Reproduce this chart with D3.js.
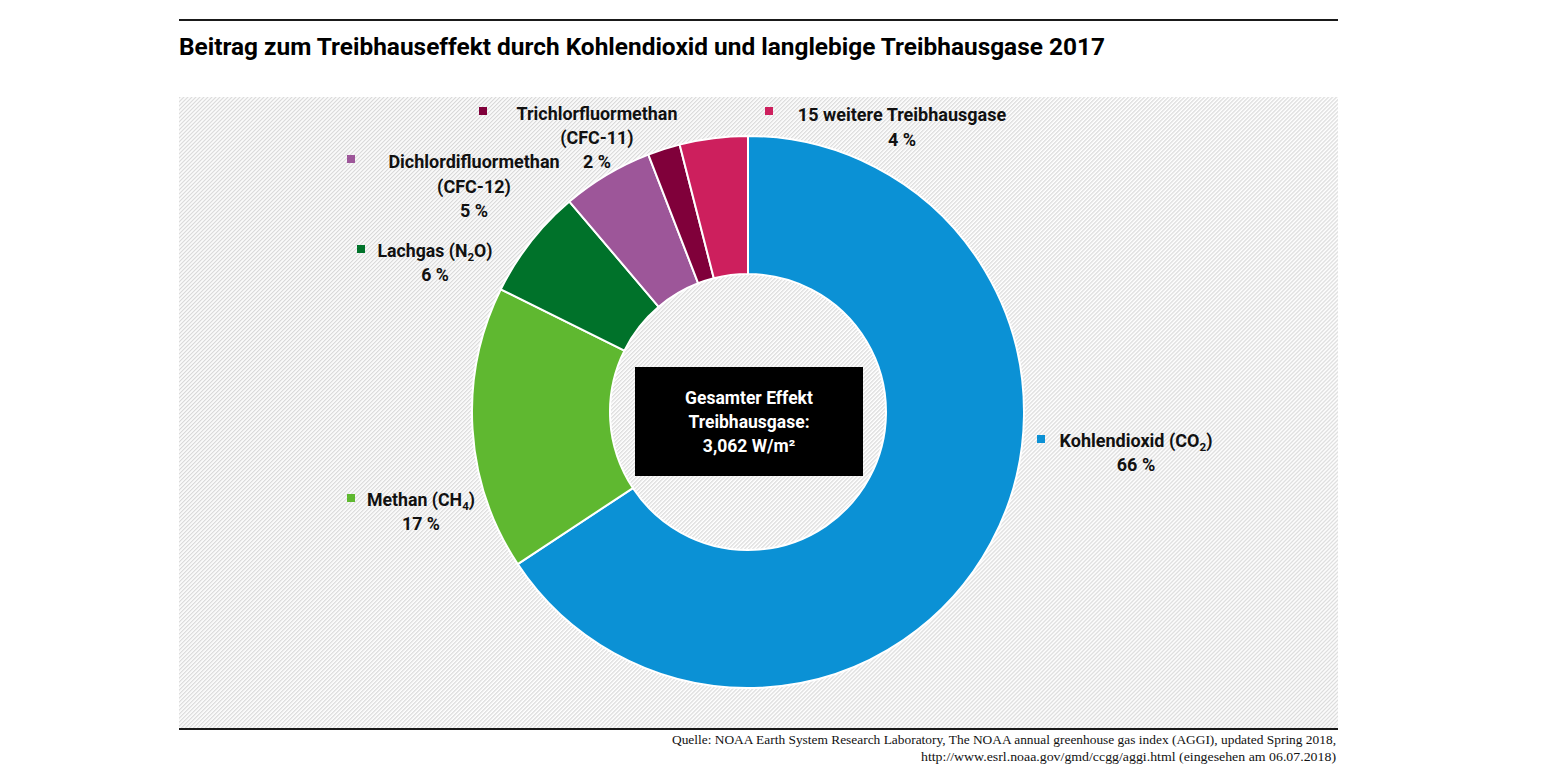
<!DOCTYPE html>
<html><head><meta charset="utf-8">
<script src="https://cdn.jsdelivr.net/npm/d3@7"></script>
<style>body{margin:0;background:#fff}</style>
</head><body>
<svg id="c" width="1545" height="775"></svg>
<script>
// ---- data (NOAA AGGI 2017, W/m²) ----
const categories = ["Kohlendioxid (CO{2})", "Methan (CH{4})", "Lachgas (N{2}O)", "Dichlordifluormethan|(CFC-12)", "Trichlorfluormethan|(CFC-11)", "15 weitere Treibhausgase"];
const values = [2.012, 0.509, 0.198, 0.163, 0.058, 0.122];
const percentLabels = ["66 %", "17 %", "6 %", "5 %", "2 %", "4 %"];
const colors = ["#0b91d5", "#5fb830", "#00722a", "#9d5699", "#80003a", "#cd1f5d"];
const titleText = "Beitrag zum Treibhauseffekt durch Kohlendioxid und langlebige Treibhausgase 2017";
const centerLines = ["Gesamter Effekt", "Treibhausgase:", "3,062 W/m²"];
const sourceLines = ["Quelle: NOAA Earth System Research Laboratory, The NOAA annual greenhouse gas index (AGGI), updated Spring 2018,",
                     "http://www.esrl.noaa.gov/gmd/ccgg/aggi.html (eingesehen am 06.07.2018)"];

// ---- layout ----
const frame = {x0: 179, x1: 1338, top: 20, hatchTop: 97, hatchBottom: 728, bottom: 729};
const cx = 748, cy = 412, rOuter = 276, rInner = 138;
const labelLayout = [
  {mx: 1037, my: 435, tx: 1136, ty: 441, lh: 24, w: 154},
  {mx: 347, my: 494, tx: 421, ty: 500, lh: 24, w: 108},
  {mx: 357, my: 245, tx: 435, ty: 251, lh: 24, w: 115},
  {mx: 347, my: 155, tx: 474, ty: 162, lh: 24.5, w: 174},
  {mx: 479, my: 107, tx: 597, ty: 114, lh: 24, w: 161},
  {mx: 765, my: 107, tx: 902, ty: 115, lh: 24.5, w: 210}
];
const FONT = "Roboto, 'Open Sans', sans-serif";

const svg = d3.select("#c");

// hatch pattern
const defs = svg.append("defs");
const pat = defs.append("pattern").attr("id", "hatch")
  .attr("patternUnits", "userSpaceOnUse").attr("width", 2.83).attr("height", 10)
  .attr("patternTransform", "rotate(45)");
pat.append("rect").attr("width", 2.83).attr("height", 10).attr("fill", "#ffffff");
pat.append("rect").attr("width", 1.2).attr("height", 10).attr("fill", "#d9d9d9");

svg.append("rect").attr("x", frame.x0).attr("y", frame.hatchTop)
  .attr("width", frame.x1 - frame.x0).attr("height", frame.hatchBottom - frame.hatchTop)
  .attr("fill", "url(#hatch)");

// rules
svg.append("line").attr("x1", frame.x0).attr("x2", frame.x1).attr("y1", frame.top).attr("y2", frame.top)
  .attr("stroke", "#1a1a1a").attr("stroke-width", 2);
svg.append("line").attr("x1", frame.x0).attr("x2", frame.x1).attr("y1", frame.bottom).attr("y2", frame.bottom)
  .attr("stroke", "#1a1a1a").attr("stroke-width", 2);

function fitWidth(sel, target) {
  const w = sel.node().getComputedTextLength();
  if (Math.abs(w - target) / target > 0.01) {
    sel.attr("textLength", target).attr("lengthAdjust", "spacingAndGlyphs");
  }
}

// title
const title = svg.append("text").attr("x", frame.x0).attr("y", 55)
  .attr("font-family", FONT).attr("font-weight", 700).attr("font-size", 23).attr("fill", "#000")
  .text(titleText);
fitWidth(title, 926);

// donut
const pie = d3.pie().sort(null).value(d => d);
const arc = d3.arc().innerRadius(rInner).outerRadius(rOuter);
const g = svg.append("g").attr("transform", `translate(${cx},${cy})`);
g.selectAll("path").data(pie(values)).join("path")
  .attr("d", arc).attr("fill", (d, i) => colors[i])
  .attr("stroke", "#fff").attr("stroke-width", 2).attr("stroke-linejoin", "round");

// labels (text in {} is subscript)
function addRichLine(textSel, str, fs) {
  const parts = str.split(/(\{[^}]*\})/).filter(s => s.length);
  let pendingUp = 0;
  parts.forEach(p => {
    if (p.startsWith("{")) {
      textSel.append("tspan").attr("font-size", fs * 0.65).attr("dy", 4).text(p.slice(1, -1));
      pendingUp = -4;
    } else {
      const t = textSel.append("tspan").text(p);
      if (pendingUp) { t.attr("dy", pendingUp); pendingUp = 0; }
    }
  });
}
const fsLabel = 17;
categories.forEach((cat, i) => {
  const L = labelLayout[i];
  svg.append("rect").attr("x", L.mx).attr("y", L.my).attr("width", 8).attr("height", 8).attr("fill", colors[i]);
  const lines = cat.split("|").concat([percentLabels[i]]);
  const probe = svg.append("text").attr("font-family", FONT).attr("font-weight", 700).attr("font-size", fsLabel);
  addRichLine(probe, lines[0], fsLabel);
  const fs = Math.min(18, Math.max(16, fsLabel * L.w / probe.node().getComputedTextLength()));
  probe.remove();
  lines.forEach((ln, k) => {
    const t = svg.append("text").attr("x", L.tx).attr("y", L.ty + k * L.lh + fs * 0.36)
      .attr("text-anchor", "middle").attr("font-family", FONT).attr("font-weight", 700)
      .attr("font-size", fs).attr("fill", "#111");
    addRichLine(t, ln, fs);
  });
});

// center box
svg.append("rect").attr("x", 635).attr("y", 367).attr("width", 228).attr("height", 109).attr("fill", "#000");
centerLines.forEach((ln, k) => {
  svg.append("text").attr("x", 749).attr("y", 398 + k * 24 + 6)
    .attr("text-anchor", "middle").attr("font-family", FONT).attr("font-weight", 700)
    .attr("font-size", 17.5).attr("fill", "#fff").text(ln);
});

// source
const srcWidths = [664, 415];
sourceLines.forEach((ln, k) => {
  const t = svg.append("text").attr("x", 1336).attr("y", 744 + k * 17)
    .attr("text-anchor", "end").attr("font-family", "'Liberation Serif', 'DejaVu Serif', serif")
    .attr("font-size", 13).attr("fill", "#111").text(ln);
  fitWidth(t, srcWidths[k]);
});
</script>
</body></html>
